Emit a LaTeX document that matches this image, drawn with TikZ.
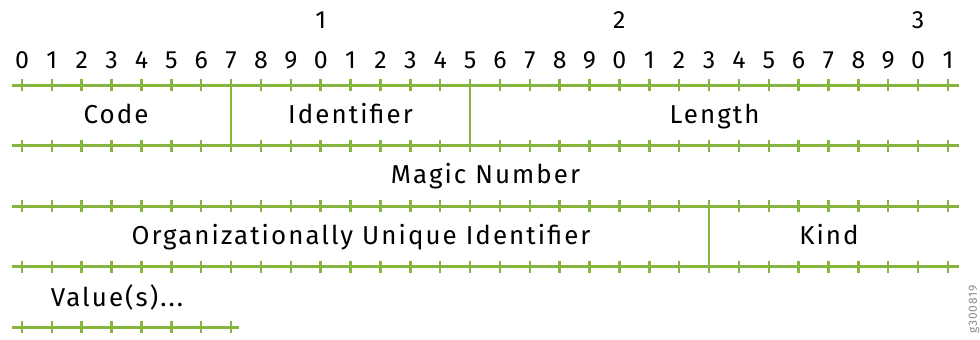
\documentclass[tikz,border=0pt]{standalone}
\usepackage{fontspec}
\setmainfont{Fira Sans}[LetterSpace=8]
\definecolor{bitgreen}{RGB}{134,180,60}
\definecolor{tagtext}{RGB}{140,140,140}
\begin{document}
\begin{tikzpicture}[x=1bp,y=-1bp,
  rule/.style={draw=bitgreen,line width=3bp},
  tickmark/.style={draw=bitgreen,line width=2.5bp},
  divider/.style={draw=bitgreen,line width=2.5bp},
  digit/.style={font=\fontsize{25}{27}\selectfont,inner sep=0pt,anchor=base},
  field/.style={font=\fontsize{26}{28}\selectfont,inner sep=0pt,anchor=base},
  figtag/.style={font=\fontsize{12}{12}\selectfont,text=tagtext,inner sep=0pt,rotate=90,anchor=west}]
\useasboundingbox (0,0) rectangle (980,339);

% bit-number header: tens and units
\foreach \i in {0,...,31}{
  \pgfmathtruncatemacro{\u}{mod(\i,10)}
  \node[digit] (u\i) at ({22+29.87*\i},68) {\u};
}
\node[digit] (t1) at ({22+29.87*10},28) {1};
\node[digit] (t2) at ({22+29.87*20},28) {2};
\node[digit] (t3) at ({22+29.87*30},28) {3};

% full-width word rules with a tick per bit
\foreach \r/\y in {1/85,2/145.5,3/206,4/266.5}{
  \coordinate (L\r) at (12,\y);
  \coordinate (R\r) at (959,\y);
  \draw[rule] (L\r) -- (R\r);
  \foreach \i in {0,...,31}{
    \draw[tickmark] ({22+29.87*\i},\y-6) -- ({22+29.87*\i},\y+6);
  }
}
% short rule under the variable-length value
\coordinate (L5) at (12,327);
\coordinate (R5) at (239,327);
\draw[rule] (L5) -- (R5);
\foreach \i in {0,...,7}{
  \draw[tickmark] ({22+29.87*\i},321) -- ({22+29.87*\i},333);
}

% field boundaries
\coordinate (d7a) at ({22+29.87*7},85);
\coordinate (d7b) at ({22+29.87*7},145.5);
\coordinate (d15a) at ({22+29.87*15},85);
\coordinate (d15b) at ({22+29.87*15},145.5);
\coordinate (d23a) at ({22+29.87*23},206);
\coordinate (d23b) at ({22+29.87*23},266.5);
\draw[divider] (d7a) -- (d7b);
\draw[divider] (d15a) -- (d15b);
\draw[divider] (d23a) -- (d23b);

% field names (on common baselines)
\node[field] (code) at (116,123) {Code};
\node[field] (ident) at (350.5,123) {Identifier};
\node[field] (len) at (714.5,123) {Length};
\node[field] (magic) at (485.5,183.5) {Magic Number};
\node[field] (oui) at (361,244.5) {Organizationally Unique Identifier};
\node[field] (kind) at (829,244.5) {Kind};
\node[field] (val) at (117,306) {Value(s)...};

% figure tag
\node[figtag] (tag) at (974,334) {g300819};
\end{tikzpicture}
\end{document}
